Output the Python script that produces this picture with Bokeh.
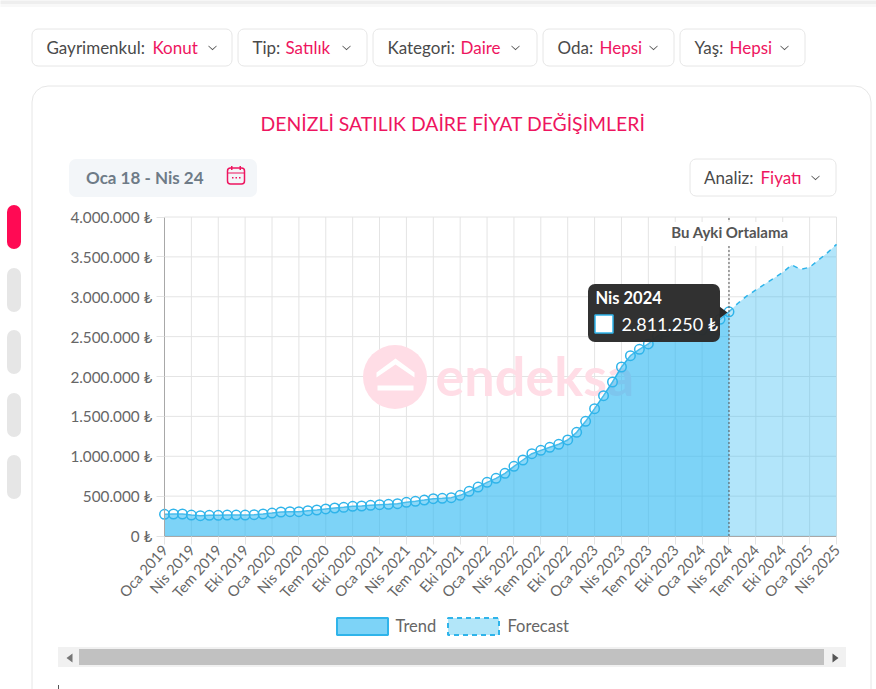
from math import pi
from bokeh.plotting import figure
from bokeh.models import BoxAnnotation, Label, PolyAnnotation, FixedTicker, LinearAxis, Range1d
from bokeh.embed import file_html
from bokeh.resources import INLINE

trend_values = [272000, 276000, 276000, 263000, 255000, 259000, 259000, 263000, 263000, 263000, 268000, 276000,
                288000, 301000, 305000, 305000, 318000, 326000, 339000, 351000, 359000, 372000, 376000, 385000,
                393000, 397000, 405000, 422000, 435000, 451000, 468000, 472000, 481000, 510000, 560000, 614000,
                673000, 723000, 786000, 874000, 953000, 1032000, 1074000, 1112000, 1150000, 1204000, 1300000,
                1438000, 1597000, 1760000, 1931000, 2119000, 2261000, 2341000, 2408000, 2508000, 2562000, 2583000,
                2592000, 2592000, 2583000, 2646000, 2717000, 2811250]
forecast_values = [2811250, 2918000, 3010000, 3085000, 3160000, 3231000, 3306000, 3398000, 3344000, 3369000,
                   3461000, 3553000, 3657000]
tick_labels = ["Oca 2019", "Nis 2019", "Tem 2019", "Eki 2019", "Oca 2020", "Nis 2020", "Tem 2020", "Eki 2020",
               "Oca 2021", "Nis 2021", "Tem 2021", "Eki 2021", "Oca 2022", "Nis 2022", "Tem 2022", "Eki 2022",
               "Oca 2023", "Nis 2023", "Tem 2023", "Eki 2023", "Oca 2024", "Nis 2024", "Tem 2024", "Eki 2024",
               "Oca 2025", "Nis 2025"]
y_ticks = [0, 500000, 1000000, 1500000, 2000000, 2500000, 3000000, 3500000, 4000000]
y_labels = ["0 ₺", "500.000 ₺", "1.000.000 ₺", "1.500.000 ₺", "2.000.000 ₺", "2.500.000 ₺", "3.000.000 ₺",
            "3.500.000 ₺", "4.000.000 ₺"]

FONT = "Lato"
PINK = "#EE1560"
DARK = "#4A4A4A"
BLUE = "#2DB8F2"
LINE = "#2FB4EA"
GRID = "#E4E4E4"
WM = "#FFDDE6"

W, H = 876, 689
PLOT_L, PLOT_R, PLOT_T, PLOT_B = 164, 836, 216.5, 535.5

trend_x = list(range(len(trend_values)))
forecast_x = list(range(len(trend_values) - 1, len(trend_values) - 1 + len(forecast_values)))
x_ticks = list(range(0, len(tick_labels) * 3, 3))
x_max = x_ticks[-1]
y_max = y_ticks[-1]

# the frame fills the whole page; the plot area is placed through the ranges
sx = (PLOT_R - PLOT_L) / x_max
sy = (PLOT_B - PLOT_T) / y_max
p = figure(width=W, height=H, output_backend="svg", toolbar_location=None,
           x_range=Range1d(-PLOT_L / sx, (W - PLOT_L) / sx),
           y_range=Range1d(-(H - PLOT_B) / sy, PLOT_B / sy),
           x_axis_location=None, y_axis_location=None,
           min_border_left=0, min_border_right=0, min_border_top=0, min_border_bottom=0)
p.outline_line_color = None
p.background_fill_color = "white"
p.border_fill_color = "white"
p.grid.visible = False

xaxis = LinearAxis(fixed_location=0, bounds=(0, x_max), ticker=FixedTicker(ticks=x_ticks),
                   major_label_overrides=dict(zip(x_ticks, tick_labels)), major_label_orientation=48 * pi / 180,
                   major_label_standoff=3)
yaxis = LinearAxis(fixed_location=0, bounds=(0, y_max), ticker=FixedTicker(ticks=y_ticks),
                   major_label_overrides=dict(zip(y_ticks, y_labels)), major_label_standoff=4)
for ax, size in ((xaxis, "14.7px"), (yaxis, "15.3px")):
    ax.major_label_text_font = FONT
    ax.major_label_text_font_size = size
    ax.major_label_text_color = "#666666"
    ax.axis_line_color = "#A8A8A8"
    ax.major_tick_line_color = GRID
    ax.major_tick_in = 0
    ax.major_tick_out = 8
    ax.minor_tick_line_color = None
p.add_layout(xaxis, "below")
p.add_layout(yaxis, "left")


def box(l, t, r, b, fill=None, line=None, radius=0, width=1, alpha=1.0, level="annotation", dash="solid"):
    b_ = BoxAnnotation(left=l - 0.5, right=r - 0.5, top=t - 0.5, bottom=b - 0.5,
                       left_units="canvas", right_units="canvas", top_units="canvas", bottom_units="canvas",
                       fill_color=fill, fill_alpha=alpha if fill else 0, line_color=line, line_width=width,
                       line_alpha=1 if line else 0, line_dash=dash, border_radius=radius, level=level,
                       editable=False)
    p.add_layout(b_)
    return b_


def text(x, y, s, size, color, align="left", style="normal", level="annotation", bg=None):
    lab = Label(x=x, y=y, x_units="canvas", y_units="canvas", text=s, text_font=FONT,
                text_font_size=f"{size}px", text_color=color, text_align=align, text_baseline="middle",
                text_font_style=style, level=level, background_fill_color=bg)
    p.add_layout(lab)
    return lab


def poly(pts, fill, level="annotation", alpha=1.0):
    p.add_layout(PolyAnnotation(xs=[a for a, _ in pts], ys=[b for _, b in pts],
                                xs_units="canvas", ys_units="canvas", fill_color=fill, fill_alpha=alpha,
                                line_color=None, level=level, editable=False))


def chevron(cx, cy):
    poly([(cx - 4, cy - 2), (cx, cy + 1.6), (cx + 4, cy - 2), (cx + 4, cy - 1), (cx, cy + 2.8),
          (cx - 4, cy - 1)], "#555555")


# watermark, behind the grid and the areas
box(363, 345, 427, 409, fill=WM, radius=32, level="underlay")
poly([(395, 358), (414, 372), (414, 377), (395, 364), (376, 377), (376, 372)], "#FFFFFF", level="underlay")
poly([(377, 385), (413, 385), (413, 390), (377, 390)], "#FFFFFF", level="underlay")
text(435, 375, "endeksa", 54, WM, style="bold", level="underlay")

p.segment(x0=x_ticks, x1=x_ticks, y0=[0] * len(x_ticks), y1=[y_max] * len(x_ticks), line_color=GRID, line_width=1,
          level="underlay")
p.segment(x0=[0] * len(y_ticks), x1=[x_max] * len(y_ticks), y0=y_ticks, y1=y_ticks, line_color=GRID, line_width=1,
          level="underlay")

# series
p.varea(x=trend_x, y1=[0] * len(trend_x), y2=trend_values, fill_color=BLUE, fill_alpha=0.62)
p.varea(x=forecast_x, y1=[0] * len(forecast_x), y2=forecast_values, fill_color=BLUE, fill_alpha=0.367)
p.line(forecast_x, forecast_values, line_color=LINE, line_width=1.5, line_dash="5 5")
p.line(trend_x, trend_values, line_color=LINE, line_width=1.5)
p.scatter(trend_x, trend_values, size=9.5, marker="circle", fill_color="white", fill_alpha=0.12,
          line_color=LINE, line_width=1.5)

p.segment(x0=[trend_x[-1]], x1=[trend_x[-1]], y0=[0], y1=[y_max], line_color="#555555", line_width=1, line_dash="2 2")
box(662, 222, 798, 246, fill="white")
text(729.5, 231.5, "Bu Ayki Ortalama", 15, "#555555", align="center", style="bold")

# page chrome
box(0, 0, W + 1, 4, fill="#EEEEEE")
box(0, 4, W + 1, 7, fill="#F8F8F8")
for top, color in [(205, "#FF0A54"), (268, "#E6E6E6"), (330, "#E6E6E6"), (393, "#E6E6E6"), (455, "#E6E6E6")]:
    box(7, top, 21, top + 44, fill=color, radius=7)

filters = [(32, 232, 46, "Gayrimenkul:", 152, "Konut", 212),
           (238, 367, 252, "Tip:", 285, "Satılık", 346),
           (373, 537, 387, "Kategori:", 460, "Daire", 515),
           (543, 674, 557, "Oda:", 599, "Hepsi", 653),
           (680, 805, 694, "Yaş:", 729, "Hepsi", 784)]
for l, r, lx, lab, vx, val, ch in filters:
    box(l, 29, r, 66, line="#E6E6E6", radius=6)
    text(lx, 46.5, lab, 17, DARK)
    text(vx, 46.5, val, 17, PINK)
    chevron(ch, 47)

box(32, 86, 871, 760, line="#E6E6E6", radius=16)
text(452.5, 123, "DENİZLİ SATILIK DAİRE FİYAT DEĞİŞİMLERİ", 19.4, PINK, align="center")

box(69, 159, 257, 197, fill="#F3F6F9", radius=7)
text(85.5, 176.5, "Oca 18 - Nis 24", 17, "#6E7B87", style="bold")
box(227.5, 168, 244.5, 184, line=PINK, radius=3, width=1.5)
box(227.5, 172.5, 244.5, 173.5, fill=PINK)
box(231, 166, 232.5, 170, fill=PINK)
box(239.5, 166, 241, 170, fill=PINK)
for dx in (232, 235.5, 239):
    box(dx, 177, dx + 1.5, 178.5, fill=PINK)

box(690, 159, 836, 196, line="#E6E6E6", radius=6)
text(703.5, 176.5, "Analiz:", 17, DARK)
text(760, 176.5, "Fiyatı", 17, PINK)
chevron(815, 177)

# legend
box(337, 618, 388, 635, fill="#7DD3F7", line=LINE, width=2)
text(395, 625, "Trend", 16.5, "#666666")
box(448, 618, 499, 635, fill="#B2E6F9", line=LINE, width=2, dash="5 4")
text(507, 625, "Forecast", 16.5, "#666666")

# scrollbar
box(58, 647, 846, 667, fill="#F1F1F1")
box(79, 649, 824, 665, fill="#C1C1C1")
poly([(72, 653), (72, 662), (66, 657.5)], "#777777")
poly([(832, 653), (832, 662), (838, 657.5)], "#555555")
box(58, 685, 59, 690, fill="#555555")

# tooltip
box(588, 284, 720, 342, fill="#2A2A2A", radius=7, alpha=0.97, level="overlay")
poly([(719, 306), (727, 312), (719, 318)], "#2A2A2A", level="overlay")
text(595, 297, "Nis 2024", 16.5, "white", style="bold", level="overlay")
box(595, 315, 613, 333, fill="white", line=LINE, width=1.5, level="overlay")
text(621, 323, "2.811.250 ₺", 18, "white", level="overlay")

open("out.html", "w").write(file_html(p, INLINE))
